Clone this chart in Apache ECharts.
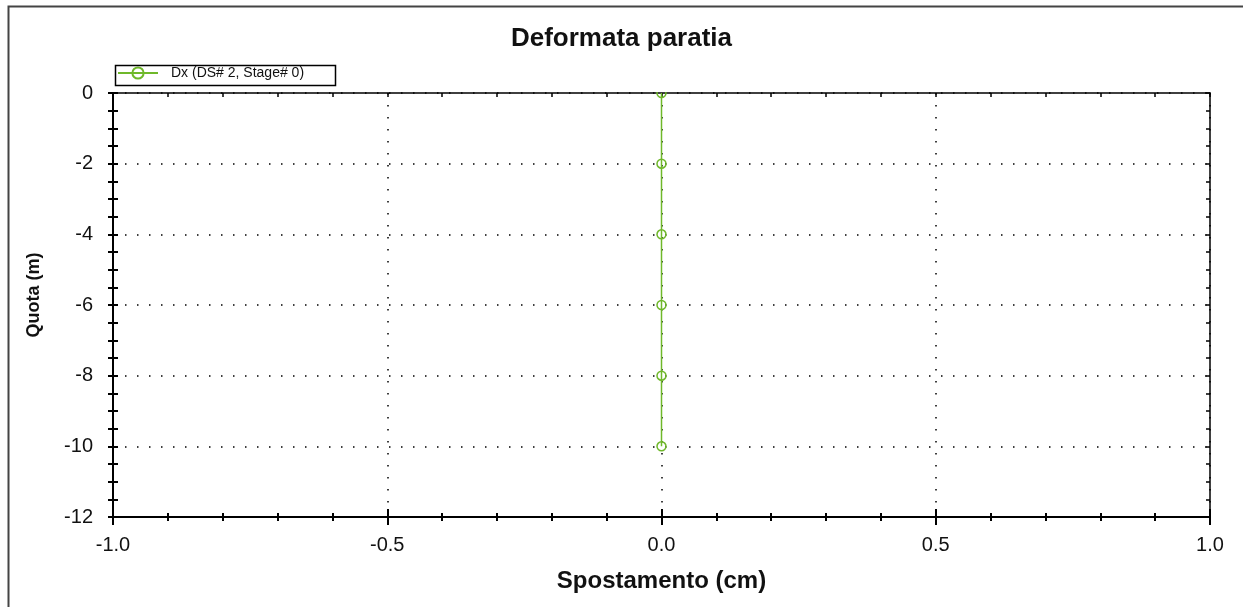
<!DOCTYPE html>
<html>
<head>
<meta charset="utf-8">
<script src="https://cdn.jsdelivr.net/npm/echarts@6/dist/echarts.min.js"></script>
<style>
html,body{margin:0;padding:0;background:#fff;}
#chart{width:1243px;height:607px;}
</style>
</head>
<body>
<div id="chart"></div>
<script>
// Data
var titleText = 'Deformata paratia';
var seriesName = 'Dx (DS# 2, Stage# 0)';
var displacement = [0, 0, 0, 0, 0, 0];      // Spostamento (cm)
var elevation = [0, -2, -4, -6, -8, -10];   // Quota (m)
var xName = 'Spostamento (cm)';
var yName = 'Quota (m)';
var xRange = [-1, 1], xStep = 0.5;
var yRange = [-12, 0], yStep = 2;

var pts = displacement.map(function (d, i) { return [d, elevation[i]]; });

var FONT = 'Liberation Sans, Arial, sans-serif';
var black = '#000';
var green = '#6fb82a';
var dotted = { color: '#000', width: 1.5, type: [1.5, 10.5] };

function xAx(opts) {
  var base = {
    type: 'value', min: xRange[0], max: xRange[1], interval: xStep,
    axisLine: { show: true, onZero: false, lineStyle: { color: black, width: 2 } },
    axisTick: { show: true, inside: false, length: 8, lineStyle: { color: black, width: 2 } },
    minorTick: { show: true, splitNumber: 5, length: 4, lineStyle: { color: black, width: 2 } },
    axisLabel: { show: false },
    splitLine: { show: false },
    minorSplitLine: { show: false }
  };
  return Object.assign(base, opts);
}
function yAx(opts) {
  var base = {
    type: 'value', min: yRange[0], max: yRange[1], interval: yStep,
    axisLine: { show: true, onZero: false, lineStyle: { color: black, width: 2 } },
    axisTick: { show: true, inside: false, length: 5, lineStyle: { color: black, width: 2 } },
    minorTick: { show: true, splitNumber: 4, length: 5, lineStyle: { color: black, width: 2 } },
    axisLabel: { show: false },
    splitLine: { show: false },
    minorSplitLine: { show: false }
  };
  return Object.assign(base, opts);
}

var chart = echarts.init(document.getElementById('chart'));
chart.setOption({
  backgroundColor: '#fff',
  animation: false,
  title: {
    text: titleText, left: 'center', top: 21,
    textStyle: { fontFamily: FONT, fontSize: 26, fontWeight: 'bold', color: '#111' }
  },
  graphic: [
    { type: 'rect', left: 6, top: 4, shape: { width: 1300, height: 700 }, style: { fill: 'none', stroke: '#444', lineWidth: 2 }, silent: true },
    { type: 'rect', left: 113, top: 63, shape: { width: 220, height: 20 }, style: { fill: 'none', stroke: '#000', lineWidth: 1.5 }, silent: true, z: 10 },
    { type: 'rect', left: 600, top: 84, shape: { width: 120, height: 8 }, style: { fill: '#fff' }, silent: true, z: 100 }
  ],
  legend: {
    left: 117, top: 66, padding: 0,
    itemWidth: 40, itemHeight: 14,
    data: [seriesName],
    textStyle: { fontFamily: FONT, fontSize: 14, color: '#111', padding: [0, 0, 0, 8] }
  },
  grid: { left: 113, right: 33, top: 93, bottom: 90, containLabel: false },
  xAxis: [
    xAx({
      position: 'bottom',
      name: xName, nameLocation: 'middle', nameGap: 52,
      nameTextStyle: { fontFamily: FONT, fontSize: 24, fontWeight: 'bold', color: '#111' },
      axisLabel: { show: true, margin: 18, fontFamily: FONT, fontSize: 20, color: '#111',
        formatter: function (v) { return v.toFixed(1); } },
      splitLine: { show: true, lineStyle: dotted }
    }),
    xAx({ position: 'bottom', axisTick: { show: true, inside: true, length: 8, lineStyle: { color: black, width: 2 } },
      minorTick: { show: true, splitNumber: 5, length: 4, lineStyle: { color: black, width: 2 } } }),
    xAx({ position: 'top', axisLine: { show: true, onZero: false, lineStyle: { color: black, width: 1.5 } },
      axisTick: { show: true, inside: true, length: 4, lineStyle: { color: black, width: 1.5 } },
      minorTick: { show: true, splitNumber: 5, length: 4, lineStyle: { color: black, width: 1.5 } } })
  ],
  yAxis: [
    yAx({
      position: 'left',
      name: yName, nameLocation: 'middle', nameGap: 70, nameRotate: 90,
      nameTextStyle: { fontFamily: FONT, fontSize: 18, fontWeight: 'bold', color: '#111', padding: [0, 0, 0, 20] },
      axisLabel: { show: true, margin: 20, fontFamily: FONT, fontSize: 20, color: '#111' },
      splitLine: { show: true, lineStyle: dotted }
    }),
    yAx({ position: 'left', axisTick: { show: true, inside: true, length: 5, lineStyle: { color: black, width: 2 } },
      minorTick: { show: true, splitNumber: 4, length: 5, lineStyle: { color: black, width: 2 } } }),
    yAx({ position: 'right', axisLine: { show: true, onZero: false, lineStyle: { color: black, width: 1.5 } },
      axisTick: { show: true, inside: true, length: 4, lineStyle: { color: black, width: 1.5 } },
      minorTick: { show: true, splitNumber: 4, length: 4, lineStyle: { color: black, width: 1.5 } } })
  ],
  series: [{
    name: seriesName, type: 'line', xAxisIndex: 0, yAxisIndex: 0,
    data: pts,
    symbol: 'circle', symbolSize: 9,
    lineStyle: { color: green, width: 1.5 },
    itemStyle: { color: 'rgba(255,255,255,0)', borderColor: green, borderWidth: 1.5 },
    z: 5
  }]
});
</script>
</body>
</html>
